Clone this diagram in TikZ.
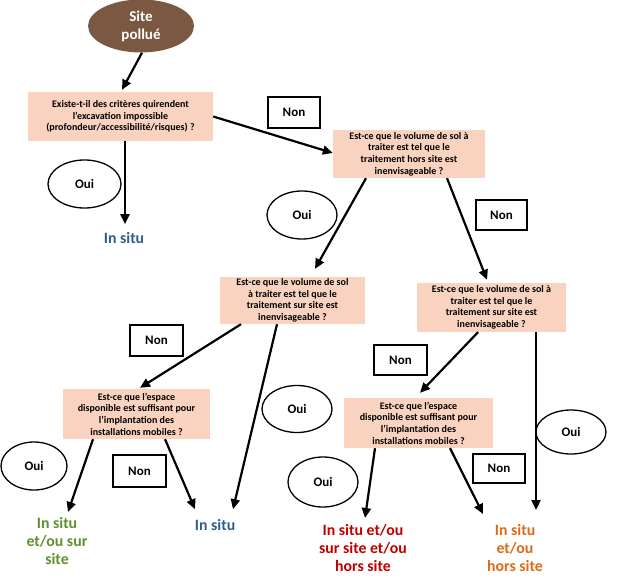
\documentclass[tikz,border=0pt]{standalone}
\usepackage{fontspec}
\setmainfont{Carlito}
\usetikzlibrary{shapes.geometric,arrows.meta}
\definecolor{peach}{HTML}{F9D3C0}
\definecolor{brownell}{HTML}{7A5842}
\definecolor{resblue}{HTML}{2F5E8E}
\definecolor{resgreen}{HTML}{5F8F2E}
\definecolor{resred}{HTML}{C00000}
\definecolor{resorange}{HTML}{DC6A17}
\tikzset{
  qbox/.style={fill=peach, inner sep=0pt, align=center, font=\fontsize{10}{11.6}\selectfont\bfseries},
  nonbox/.style={draw=black, line width=1.3pt, fill=white, inner sep=0pt, font=\fontsize{13}{15}\selectfont\bfseries},
  ouiell/.style={ellipse, draw=black, line width=1.3pt, inner sep=0pt, font=\fontsize{13}{15}\selectfont\bfseries},
  res/.style={inner sep=0pt, align=center, font=\fontsize{15.8}{18.2}\selectfont\bfseries},
  arr/.style={line width=2.2pt, -{Triangle[length=10pt,width=9pt]}}
}
\begin{document}
\begin{tikzpicture}[x=1pt,y=-1pt]
\useasboundingbox (0,0) rectangle (617,577);
% start
\node[ellipse, fill=brownell, minimum width=106pt, minimum height=53pt, inner sep=0pt, align=center, text=white,
  font=\fontsize{15}{18}\selectfont\bfseries] (site) at (141,26) {Site\\pollué};
% question boxes
\node[qbox, minimum width=185pt, minimum height=49pt] (b1) at (120.5,116.5)
  {Existe-t-il des critères quirendent\\l’excavation impossible\\(profondeur/accessibilité/risques) ?};
\node[qbox, minimum width=152pt, minimum height=48pt] (b2) at (409,154)
  {Est-ce que le volume de sol à\\traiter est tel que le\\traitement hors site est\\inenvisageable ?};
\node[qbox, minimum width=145pt, minimum height=47pt] (b3) at (292.5,300.5)
  {Est-ce que le volume de sol\\à traiter est tel que le\\traitement sur site est\\inenvisageable ?};
\node[qbox, minimum width=149pt, minimum height=49pt] (b4) at (491.5,307.5)
  {Est-ce que le volume de sol à\\traiter est tel que le\\traitement sur site est\\inenvisageable ?};
\node[qbox, minimum width=147pt, minimum height=50pt] (b5) at (136.5,414)
  {Est-ce que l’espace\\disponible est suffisant pour\\l’implantation des\\installations mobiles ?};
\node[qbox, minimum width=149pt, minimum height=50pt] (b6) at (418.5,423)
  {Est-ce que l’espace\\disponible est suffisant pour\\l’implantation des\\installations mobiles ?};
% Non labels
\node[nonbox, minimum width=52pt, minimum height=31pt] (n1) at (294,112.5) {Non};
\node[nonbox, minimum width=51pt, minimum height=30pt] (n2) at (501.5,215) {Non};
\node[nonbox, minimum width=53pt, minimum height=31pt] (n3) at (156.5,340.5) {Non};
\node[nonbox, minimum width=53pt, minimum height=32pt] (n4) at (139.5,471) {Non};
\node[nonbox, minimum width=53pt, minimum height=30pt] (n5) at (400.5,360) {Non};
\node[nonbox, minimum width=52pt, minimum height=29pt] (n6) at (499,468.5) {Non};
% Oui labels
\node[ouiell, minimum width=73pt, minimum height=48pt] (o1) at (84.5,184) {Oui};
\node[ouiell, minimum width=70pt, minimum height=48pt] (o2) at (302,215) {Oui};
\node[ouiell, minimum width=70pt, minimum height=47pt] (o3) at (297,409) {Oui};
\node[ouiell, minimum width=66pt, minimum height=48pt] (o4) at (34,466) {Oui};
\node[ouiell, minimum width=70pt, minimum height=50pt] (o5) at (323,482) {Oui};
\node[ouiell, minimum width=70pt, minimum height=44pt] (o6) at (571,432) {Oui};
% results
\node[res, text=resblue] (in1) at (124,238) {In situ};
\node[res, text=resblue] (in2) at (215,525) {In situ};
\node[res, text=resgreen] (g) at (57,541) {In situ\\et/ou sur\\site};
\node[res, text=resred] (r) at (363,548) {In situ et/ou\\sur site et/ou\\hors site};
\node[res, text=resorange] (o) at (515,548) {In situ\\et/ou\\hors site};
% arrows
\draw[arr] ([xshift=1pt]site.south) -- ([xshift=1.5pt,yshift=2pt]b1.north);
\draw[arr] (b1.east) -- ([yshift=1pt]b2.west);
\draw[arr] ([xshift=4.5pt]b1.south) -- ([xshift=1pt,yshift=8pt]in1.north);
\draw[arr] ([xshift=-43pt]b2.south) -- ([xshift=22.5pt,yshift=8pt]b3.north);
\draw[arr] ([xshift=38pt]b2.south) -- ([xshift=-4.5pt,yshift=3pt]b4.north);
\draw[arr] ([xshift=-51.5pt]b3.south) -- ([xshift=3.5pt,yshift=1pt]b5.north);
\draw[arr] ([xshift=-15.5pt]b3.south) -- ([xshift=18pt,yshift=10pt]in2.north);
\draw[arr] ([xshift=-43.5pt]b5.south) -- ([xshift=11pt,yshift=5pt]g.north);
\draw[arr] ([xshift=28.5pt]b5.south) -- ([xshift=-20pt,yshift=10pt]in2.north);
\draw[arr] ([xshift=-13.5pt]b4.south) -- ([xshift=1.5pt,yshift=5pt]b6.north);
\draw[arr] ([xshift=44.5pt]b4.south) -- ([xshift=21pt,yshift=14pt]o.north);
\draw[arr] ([xshift=-43.5pt]b6.south) -- ([xshift=2pt,yshift=6pt]r.north);
\draw[arr] ([xshift=31.5pt]b6.south) -- ([xshift=-32pt,yshift=10pt]o.north);
\end{tikzpicture}
\end{document}
